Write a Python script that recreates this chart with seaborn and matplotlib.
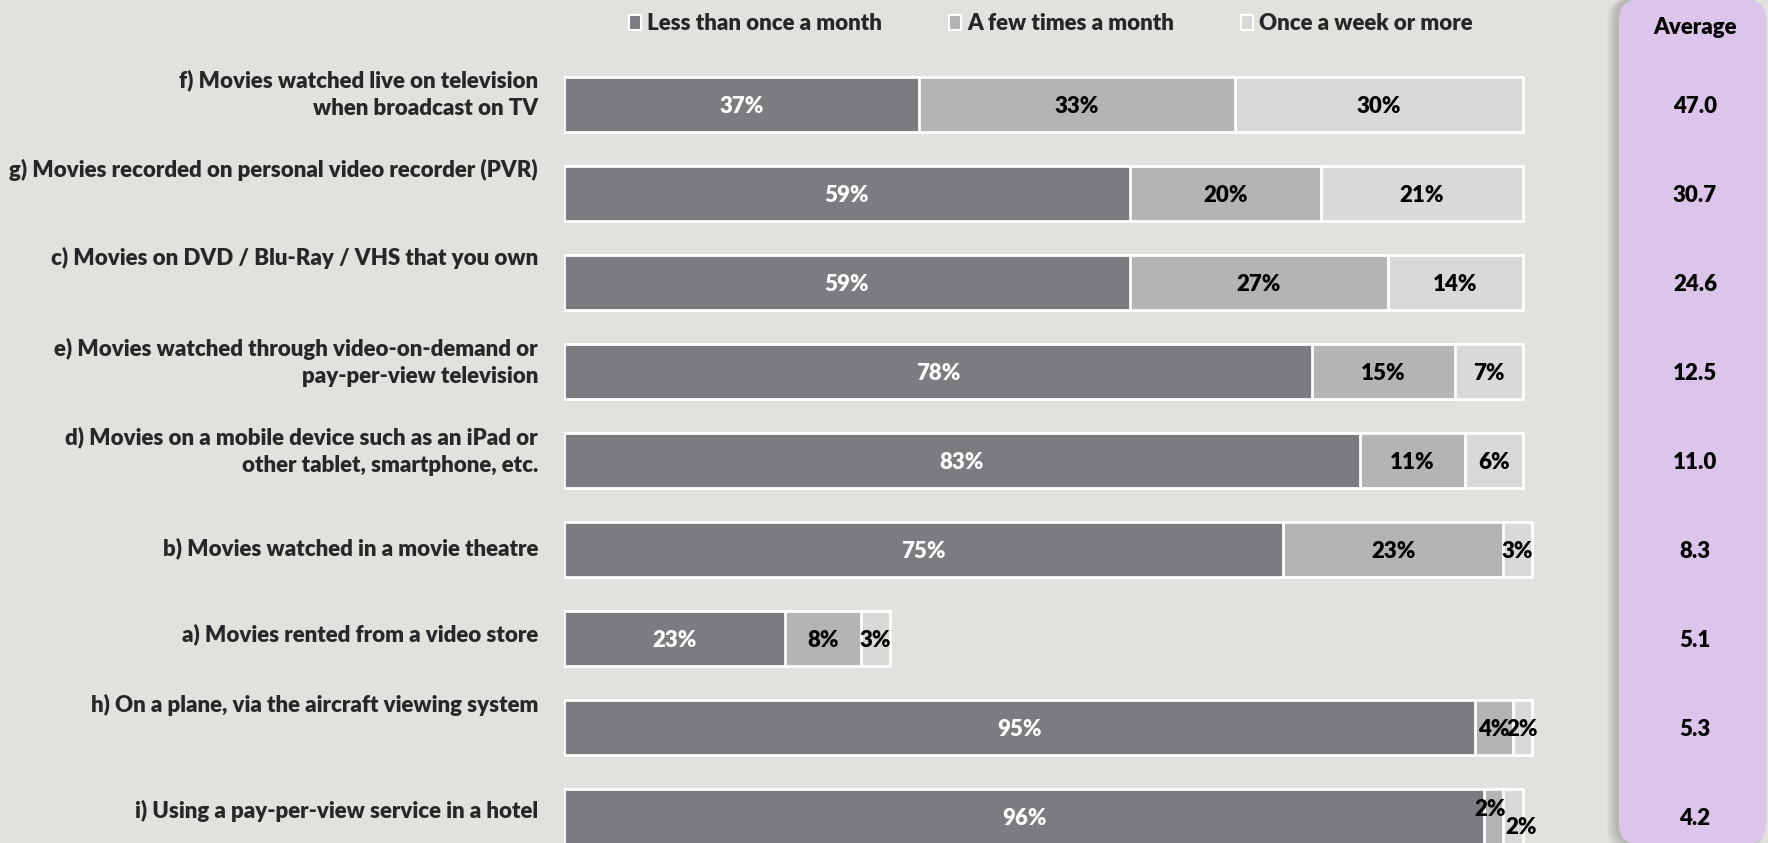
import matplotlib
matplotlib.use("Agg")
import matplotlib.pyplot as plt
import matplotlib.transforms as mtransforms
from matplotlib.patches import Patch, FancyBboxPatch
import seaborn as sns

# ---- data -------------------------------------------------------------
categories = [
    "f) Movies watched live on television\nwhen broadcast on TV",
    "g) Movies recorded on personal video recorder (PVR)",
    "c) Movies on DVD / Blu-Ray / VHS that you own",
    "e) Movies watched through video-on-demand or\npay-per-view television",
    "d) Movies on a mobile device such as an iPad or\nother tablet, smartphone, etc.",
    "b) Movies watched in a movie theatre",
    "a) Movies rented from a video store",
    "h) On a plane, via the aircraft viewing system",
    "i) Using a pay-per-view service in a hotel",
]
less_than_monthly = [37, 59, 59, 78, 83, 75, 23, 95, 96]
few_times_monthly = [33, 20, 27, 15, 11, 23, 8, 4, 2]
weekly_or_more = [30, 21, 14, 7, 6, 3, 3, 2, 2]
averages = [47.0, 30.7, 24.6, 12.5, 11.0, 8.3, 5.1, 5.3, 4.2]
series_names = ["Less than once a month", "A few times a month", "Once a week or more"]

# ---- style ------------------------------------------------------------
BG = "#e2e1dd"
DARK, MID, LIGHT = "#7a7c80", "#b3b4b6", "#d9d9d9"
PANEL = "#dbc5ea"
LABEL_COLOR = "#272727"
FS = 16
WEIGHT = "heavy"

sns.set_theme(style="white")
plt.rcParams["font.family"] = ["Lato", "DejaVu Sans"]
plt.rcParams["font.weight"] = WEIGHT

W, H = 1768, 843
fig = plt.figure(figsize=(W / 100, H / 100), dpi=100, facecolor=BG)

# bar area: 0 % at x=564 px, 100 % at x=1522 px; rows 89 px apart
x0_px, px_per_pct = 564.3, 9.582
xmax = 102
ax = fig.add_axes([x0_px / W, 0, px_per_pct * xmax / W, 1])
ax.set_facecolor("none")
ax.set_zorder(5)

pitch, first_center = 89.0, 104.5
bar_w = 55 / pitch

cum_mid = [a + b for a, b in zip(less_than_monthly, few_times_monthly)]
cum_all = [a + b for a, b in zip(cum_mid, weekly_or_more)]

for vals, col in [(cum_all, LIGHT), (cum_mid, MID), (less_than_monthly, DARK)]:
    sns.barplot(x=vals, y=categories, orient="h", color=col, saturation=1,
                edgecolor="white", linewidth=2, width=bar_w, errorbar=None, ax=ax)

ax.set_xlim(0, xmax)
ax.set_ylim((H - first_center) / pitch, -first_center / pitch)
ax.axis("off")

# ---- segment labels ---------------------------------------------------
nudges = {(8, 1): (-4, -9), (8, 2): (8, 9)}  # (row, segment): (dx px, dy px down)
for i in range(len(categories)):
    starts = [0, less_than_monthly[i], cum_mid[i]]
    segs = [less_than_monthly[i], few_times_monthly[i], weekly_or_more[i]]
    for j, (s, v) in enumerate(zip(starts, segs)):
        dx, dy = nudges.get((i, j), (0, 0))
        tr = mtransforms.offset_copy(ax.transData, fig, x=dx * 0.72, y=-dy * 0.72, units="points")
        ax.text(s + v / 2, i, f"{v}%", transform=tr, ha="center", va="center_baseline",
                fontsize=FS, fontweight=WEIGHT,
                color="white" if j == 0 else "black", clip_on=False)

# ---- category labels --------------------------------------------------
# baseline of the last text line, in px below the bar's top edge
baseline_from_top = [38, 11, 10, 39, 39, 33, 30, 12, 29]
ytr = ax.get_yaxis_transform()
label_x = (538 - x0_px) / (px_per_pct * xmax)
for i, (lab, off) in enumerate(zip(categories, baseline_from_top)):
    ax.text(label_x, i - bar_w / 2 + off / pitch, lab, transform=ytr, ha="right",
            va="baseline", multialignment="right", linespacing=1.38,
            fontsize=FS, fontweight=WEIGHT, color=LABEL_COLOR, clip_on=False)

# ---- average panel ----------------------------------------------------
px = mtransforms.IdentityTransform()
p_left, p_right = 1619, 1766
for k in range(10, 0, -1):
    fig.patches.append(FancyBboxPatch(
        (p_left - 2 - k * 1.0, -2 - k * 0.5), (p_right - p_left) + k * 1.0, H + 4 + k * 0.5,
        boxstyle="round,pad=0,rounding_size=22", transform=px,
        facecolor="#6f6e6a", edgecolor="none", alpha=0.04, zorder=0))
fig.patches.append(FancyBboxPatch(
    (p_left, -1), p_right - p_left, H + 1.5,
    boxstyle="round,pad=0,rounding_size=20", transform=px,
    facecolor=PANEL, edgecolor="none", zorder=1))

panel_cx = 1695 / W
vtr = mtransforms.blended_transform_factory(fig.transFigure, ax.transData)
ax.text(panel_cx, -first_center / pitch + 27 / pitch, "Average", transform=vtr,
        ha="center", va="center", fontsize=FS, fontweight=WEIGHT, color="black", clip_on=False)
for i, v in enumerate(averages):
    ax.text(panel_cx, i, f"{v:.1f}", transform=vtr, ha="center", va="center_baseline",
            fontsize=FS, fontweight=WEIGHT, color="black", clip_on=False)

# ---- legend -----------------------------------------------------------
handles = [Patch(facecolor=c, edgecolor="white", linewidth=1.5) for c in (DARK, MID, LIGHT)]
fig.legend(handles, series_names, loc="center", bbox_to_anchor=(1051 / W, 1 - 24 / H),
           ncol=3, frameon=False, prop={"size": FS, "weight": WEIGHT},
           handlelength=0.55, handleheight=0.65, handletextpad=0.28, columnspacing=3.0,
           borderaxespad=0, borderpad=0)

fig.savefig("out.png", dpi=100, facecolor=BG)
